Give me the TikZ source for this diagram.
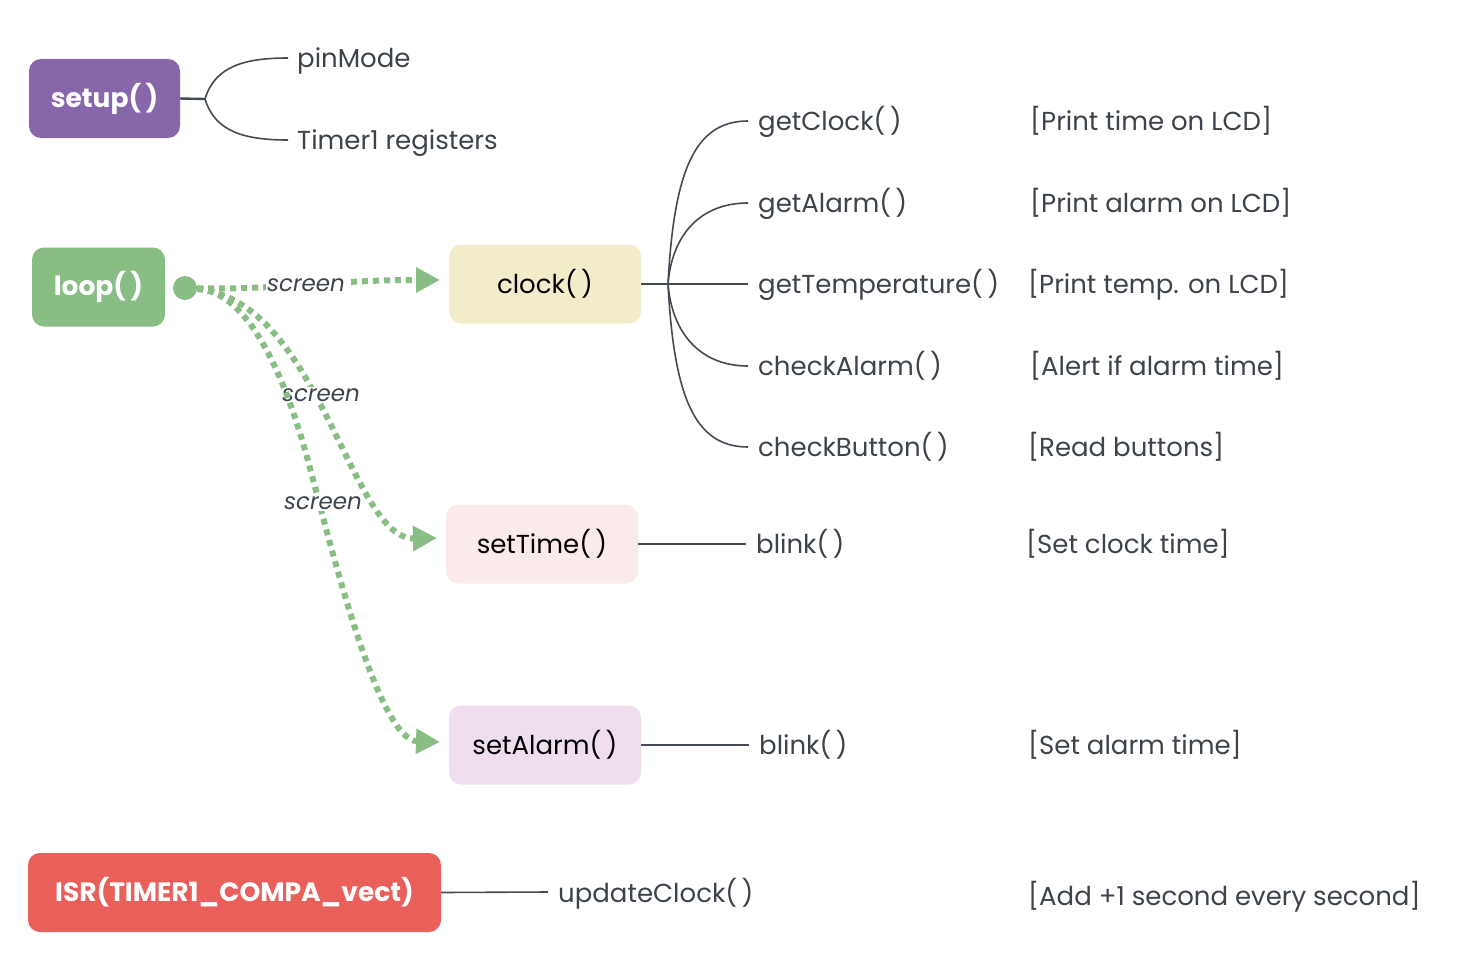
\documentclass[tikz,border=0pt]{standalone}
\usepackage{fontspec}
\setmainfont{Poppins}
\usetikzlibrary{arrows.meta}
\definecolor{ink}{HTML}{3D434A}
\definecolor{linec}{HTML}{454B52}
\definecolor{cpurple}{HTML}{8767AA}
\definecolor{cgreen}{HTML}{88BE83}
\definecolor{ccream}{HTML}{F3ECCB}
\definecolor{cpink}{HTML}{FAEAEA}
\definecolor{clav}{HTML}{EEDEEE}
\definecolor{cred}{HTML}{E95F5A}
\begin{document}
\begin{tikzpicture}[x=1pt,y=-1pt,
  box/.style={rounded corners=12pt, minimum height=79pt, inner sep=0pt, font=\fontsize{26}{31}\selectfont},
  dark/.style={box, text=white, font=\fontsize{26.5}{31}\selectfont\bfseries},
  lbl/.style={anchor=base west, inner sep=0pt, text=ink, font=\fontsize{26}{31}\selectfont},
  scr/.style={inner sep=1pt, fill=white, text=ink, font=\fontsize{23}{27}\selectfont\itshape},
  flow/.style={draw=cgreen, line width=6pt, dash pattern=on 6pt off 5pt, -{Triangle[length=24pt,width=24pt]}},
  br/.style={draw=linec, line width=1.6pt},
  stem/.style={draw=linec, line width=2.4pt}]
\useasboundingbox (0,0) rectangle (1464,966);

% boxes
\node[dark, fill=cpurple, minimum width=151pt] (setup) at (104.5,98.5) {setup(\,)};
\node[dark, fill=cgreen, minimum width=133pt] (loop) at (98.5,287) {loop(\,)};
\node[box, fill=ccream, minimum width=192pt] (clock) at (545,284) {clock(\,)};
\node[box, fill=cpink, minimum width=192pt] (settime) at (542,544) {setTime(\,)};
\node[box, fill=clav, minimum width=192pt] (setalarm) at (545,745) {setAlarm(\,)};
\node[dark, fill=cred, minimum width=413pt] (isr) at (234.5,892.5) {ISR(TIMER1\_COMPA\_vect)};

% setup branches
\coordinate (sf) at (205,99);
\coordinate (pm) at (288,58);
\coordinate (tr) at (288,140);
\draw[stem] (setup.east) -- (sf);
\draw[br] (sf) .. controls (215,66) and (245,58) .. (pm);
\draw[br] (sf) .. controls (215,132) and (245,140) .. (tr);
\node[lbl] (pinmode) at (297,67) {pinMode};
\node[lbl] (timer) at (297,149) {Timer1 registers};

% clock branches
\coordinate (cf) at (668,284);
\coordinate (c1) at (748,121);
\coordinate (c2) at (748,203);
\coordinate (c3) at (748,284);
\coordinate (c4) at (748,366);
\coordinate (c5) at (748,447);
\draw[stem] (clock.east) -- (cf);
\draw[br] (cf) .. controls (674,170) and (695,121) .. (c1);
\draw[br] (cf) .. controls (672,235) and (700,203) .. (c2);
\draw[br] (cf) -- (c3);
\draw[br] (cf) .. controls (672,333) and (700,366) .. (c4);
\draw[br] (cf) .. controls (674,398) and (695,447) .. (c5);
\node[lbl] (getclock) at (758,130) {getClock(\,)};
\node[lbl] (getalarm) at (758,212) {getAlarm(\,)};
\node[lbl] (gettemp) at (758,293) {getTemperature(\,)};
\node[lbl] (checkalarm) at (758,375) {checkAlarm(\,)};
\node[lbl] (checkbutton) at (758,456) {checkButton(\,)};
\node[lbl] (d1) at (1030,130) {[Print time on LCD]};
\node[lbl] (d2) at (1030,212) {[Print alarm on LCD]};
\node[lbl] (d3) at (1028,293) {[Print temp. on LCD]};
\node[lbl] (d4) at (1030,375) {[Alert if alarm time]};
\node[lbl] (d5) at (1028,456) {[Read buttons]};

% setTime
\coordinate (st) at (746,544);
\draw[br] (settime.east) -- (st);
\node[lbl] (blink1) at (756,553) {blink(\,)};
\node[lbl] (d6) at (1026,553) {[Set clock time]};

% setAlarm
\coordinate (sa) at (749,745);
\draw[br] (setalarm.east) -- (sa);
\node[lbl] (blink2) at (759,754) {blink(\,)};
\node[lbl] (d7) at (1028,754) {[Set alarm time]};

% ISR
\coordinate (ui) at (548,892);
\draw[br] (isr.east) -- (ui);
\node[lbl] (update) at (558,902) {updateClock(\,)};
\node[lbl] (d8) at (1028,905) {[Add +1 second every second]};

% flows
\node[circle, fill=cgreen, minimum size=24pt, inner sep=0pt] (dot) at (185,288) {};
\coordinate (e1) at (440,280);
\coordinate (e2) at (437,538);
\coordinate (e3) at (440,742);
\coordinate (m3) at (305,450);
\draw[flow] (dot) .. controls (280,290) and (330,280) .. (e1);
\node[scr] (s1) at (306,285) {screen};
\draw[flow] (dot) .. controls (320,300) and (350,540) .. (e2);
\node[scr] (s2) at (321,395) {screen};
\draw[flow] (dot) .. controls (250,292) and (285,380) .. (m3) .. controls (325,520) and (375,740) .. (e3);
\node[scr] (s3) at (323,503) {screen};
\end{tikzpicture}
\end{document}
